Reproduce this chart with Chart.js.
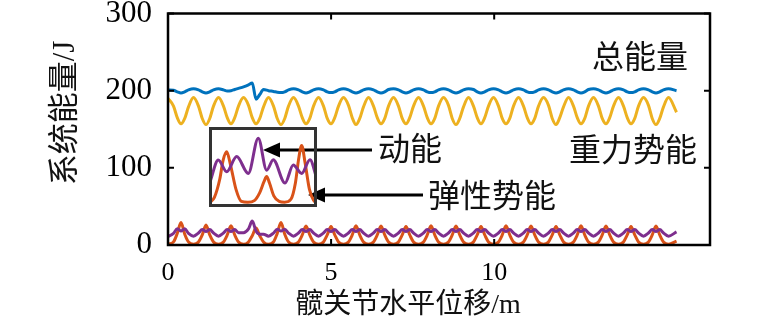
<!DOCTYPE html>
<html><head><meta charset="utf-8">
<script src="https://cdn.jsdelivr.net/npm/chart.js@4.4.0/dist/chart.umd.min.js"></script>
<style>
html,body{margin:0;padding:0;background:#fff;}
#wrap{position:relative;width:769px;height:334px;overflow:hidden;}
#main{position:absolute;left:0;top:0;}
#inset{position:absolute;left:209px;top:127px;}
</style></head><body>
<div id="wrap"><canvas id="main" width="769" height="334"></canvas><canvas id="inset" width="108" height="80"></canvas></div>
<script>
// ---- data ----
const xTicks = [0, 5, 10];
const yTicks = [0, 100, 200, 300];
const seriesNames = ['总能量', '重力势能', '动能', '弹性势能'];
const xTitle = '髋关节水平位移/m';
const yTitle = '系统能量/J';

const xs = [
 0,0.169,0.284,0.399,0.513,0.628,
 0.782,0.935,1.050,1.165,1.280,1.395,
 1.548,1.701,1.816,1.931,2.046,2.161,
 2.315,2.468,2.583,2.698,2.813,2.928,
 3.081,3.234,3.349,3.464,3.579,3.694,
 3.848,4.001,4.116,4.231,4.346,4.461,
 4.614,4.767,4.882,4.997,5.112,5.227,
 5.380,5.533,5.648,5.763,5.878,5.993,
 6.147,6.300,6.415,6.530,6.645,6.760,
 6.913,7.066,7.181,7.296,7.411,7.526,
 7.680,7.833,7.948,8.063,8.178,8.293,
 8.446,8.599,8.714,8.829,8.944,9.059,
 9.212,9.365,9.480,9.595,9.710,9.825,
 9.979,10.132,10.247,10.362,10.477,10.592,
 10.745,10.898,11.013,11.128,11.243,11.358,
 11.512,11.665,11.780,11.895,12.010,12.125,
 12.278,12.431,12.546,12.661,12.776,12.891,
 13.044,13.197,13.312,13.427,13.542,13.657,
 13.811,13.964,14.079,14.194,14.309,14.424,
 14.577,14.730,14.845,14.960,15.075,15.190,
 15.343,15.590];

const totalEnergy = [
 201,200.5,198.5,197,198.5,201,
 202.5,201,198.5,197,198.5,201,
 202.5,201,199.5,200,201.5,203,
 205,207.5,210,189,195,201.5,
 200,199,198,197.5,198.5,201,
 202.5,201,198.5,197,198.5,201,
 202.5,201,198.5,197.5,198.5,201,
 202.5,201,198.5,197,198.5,201,
 202.5,201,198.5,197,198.5,201.5,
 202.5,201,198.5,197,198.5,201,
 202.5,201,198.5,197.5,198.5,201,
 202.5,201,198.5,197,198.5,201,
 202.5,201.5,198.5,197,198.5,201,
 202.5,201,198.5,197,198.5,201,
 202.5,201,198.5,197.5,198.5,201,
 202.5,201,198.5,197,198.5,201,
 202.5,201,198.5,197,198.5,201.5,
 202.5,201,198.5,197,198.5,201,
 202.5,201,198.5,197.5,198.5,201,
 202.5,201,198.5,197,198.5,201,
 202.5,200];

const gravityPE = [
 190,180,165,157,164,179,
 191,180,164,156,164,180,
 191,180,165,157,165,180,
 191,181,165,157,164,179,
 191,180,164,156,164,180,
 191,180,165,157,164,180,
 191,180,164,157,165,180,
 191,181,165,156,164,179,
 191,180,165,157,164,180,
 191,180,164,157,165,180,
 191,180,165,157,164,180,
 191,181,164,156,164,179,
 191,180,165,157,165,180,
 191,180,164,157,164,180,
 191,180,165,157,164,180,
 191,181,164,156,165,179,
 191,180,165,157,164,180,
 191,180,164,157,165,180,
 191,180,165,157,164,180,
 191,181,164,156,164,179,
 191,172];

const kineticE = [
 10.8,15,21,18,21,15,
 11.5,15.5,20,17.5,20,15.5,
 11.5,15.5,20,17.5,20,16,
 16,21,31,18,14,14,
 11.5,15.5,20.5,18,20.5,15.5,
 11.5,15.5,20,17.5,20,15.5,
 11.5,15.5,20,17.5,20,15.5,
 11.5,15.5,20,17.5,20,15.5,
 11.5,15.5,20,17.5,20,15.5,
 11.5,15.5,20,17.5,20,15.5,
 11.5,15.5,20,17.5,20,15.5,
 11.5,15.5,20,17.5,20,15.5,
 11.5,15.5,20,17.5,20,15.5,
 11.5,15.5,20,17.5,20,15.5,
 11.5,15.5,20,17.5,20,15.5,
 11.5,15.5,20,17.5,20,15.5,
 11.5,15.5,20,17.5,20,15.5,
 11.5,15.5,20,17.5,20,15.5,
 11.5,15.5,20,17.5,20,15.5,
 11.5,15.5,20,17.5,20,15.5,
 11.5,17];

const elasticPE = [
 1,4,15,29,14,4,
 1,4,13,26,13,4,
 1,4,13,25,13,4,
 1,4,12,22,12,4,
 1,4,15,29,14,4,
 1,4,13,24.5,13,4,
 1,4,13,24,13,4,
 1,4,13,25,13,4,
 1,4,13,24.5,13,4,
 1,4,13,24,13,4,
 1,4,13,25,13,4,
 1,4,13,24.5,13,4,
 1,4,13,24,13,4,
 1,4,13,25,13,4,
 1,4,13,24.5,13,4,
 1,4,13,24,13,4,
 1,4,13,25,13,4,
 1,4,13,24.5,13,4,
 1,4,13,24,13,4,
 1,4,13,24.5,13,4,
 1,5];

// inset (magnified detail, local 0..1 x and 0..100 y)
const insetKinX = [0.01,0.086,0.164,0.256,0.364,0.456,0.534,0.595,0.704,0.78,0.858,0.935,0.997];
const insetKin  = [31.6,58.8,44,63,42,86,46,59,30,52.5,42,59,36];
const insetElaX = [0.01,0.05,0.1,0.13,0.164,0.2,0.25,0.3,0.36,0.42,0.47,0.51,0.534,0.56,0.6,0.65,0.7,0.76,0.8,0.83,0.858,0.89,0.93,0.97,0.995];
const insetEla  = [6,12,35,58,69,52,22,7,6,8,18,32,38,30,14,7,6,10,30,60,77,55,22,8,5];

// ---- styling ----
const BLUE='#0072BD', YELLOW='#EDB120', ORANGE='#D95319', PURPLE='#7E2F8E';
const SERIF = "'Liberation Serif','Times New Roman','Noto Sans CJK SC',serif";
const CJK = "'Noto Sans CJK SC','Liberation Serif',sans-serif";

const pts = (xa, ya) => xa.map((x, i) => ({x, y: ya[i]}));
const ds = (label, xa, ya, color) => ({label, data: pts(xa, ya), borderColor: color, backgroundColor: color,
  borderWidth: 3, pointRadius: 0, fill: false, cubicInterpolationMode: 'monotone'});

const framePlugin = {
  id: 'frame',
  afterDatasetsDraw(chart) {
    const {ctx, chartArea: a, scales: {x, y}} = chart;
    ctx.save();
    ctx.strokeStyle = '#000';
    ctx.lineWidth = 2.5;
    ctx.strokeRect(a.left, a.top, a.right - a.left, a.bottom - a.top);
    ctx.lineWidth = 2;
    ctx.beginPath();
    x.ticks.forEach(t => { const p = x.getPixelForValue(t.value);
      ctx.moveTo(p, a.bottom); ctx.lineTo(p, a.bottom - 6); ctx.moveTo(p, a.top); ctx.lineTo(p, a.top + 6); });
    y.ticks.forEach(t => { const p = y.getPixelForValue(t.value);
      ctx.moveTo(a.left, p); ctx.lineTo(a.left + 6, p); ctx.moveTo(a.right, p); ctx.lineTo(a.right - 6, p); });
    ctx.stroke();
    ctx.restore();
  }
};

const annotPlugin = {
  id: 'annot',
  afterDraw(chart) {
    const ctx = chart.ctx;
    ctx.save();
    ctx.fillStyle = '#111';
    ctx.textAlign = 'center';
    ctx.textBaseline = 'middle';
    // axis titles
    ctx.font = "28px " + SERIF;
    ctx.fillText(xTitle, 408, 306);
    ctx.save();
    ctx.translate(66, 113);
    ctx.rotate(-Math.PI / 2);
    ctx.font = "31px " + SERIF;
    ctx.fillText(yTitle, 0, 0);
    ctx.restore();
    // series labels
    ctx.font = "32px " + CJK;
    ctx.fillText(seriesNames[0], 640, 56);
    ctx.fillText(seriesNames[1], 633, 149);
    ctx.fillText(seriesNames[2], 410, 148);
    ctx.fillText(seriesNames[3], 492, 195);
    const arrow = (x0, x1, yy) => {
      ctx.strokeStyle = '#000'; ctx.fillStyle = '#000'; ctx.lineWidth = 3;
      ctx.beginPath(); ctx.moveTo(x0, yy); ctx.lineTo(x1 + 12, yy); ctx.stroke();
      ctx.beginPath(); ctx.moveTo(x1, yy); ctx.lineTo(x1 + 17, yy - 7.5); ctx.lineTo(x1 + 17, yy + 7.5); ctx.closePath(); ctx.fill();
    };
    arrow(372, 263, 150);
    arrow(423, 308, 195);
    ctx.restore();
  }
};

new Chart(document.getElementById('main'), {
  type: 'line',
  data: { datasets: [
    ds(seriesNames[0], xs, totalEnergy, BLUE),
    ds(seriesNames[1], xs, gravityPE, YELLOW),
    ds(seriesNames[2], xs, kineticE, PURPLE),
    ds(seriesNames[3], xs, elasticPE, ORANGE)
  ]},
  options: {
    responsive: false, animation: false, events: [],
    layout: { padding: { top: 13.5, right: 59, left: 0, bottom: 0 } },
    plugins: { legend: { display: false }, tooltip: { enabled: false } },
    scales: {
      x: {
        type: 'linear', min: 0, max: 16.616,
        afterBuildTicks: s => { s.ticks = xTicks.map(v => ({value: v})); },
        afterFit: s => { s.height = 89; s.paddingLeft = 0; s.paddingRight = 0; },
        grid: { display: false, drawTicks: false },
        border: { display: false },
        ticks: { color: '#000', padding: 13, maxRotation: 0, font: { family: SERIF, size: 26 } },
        title: { display: false, text: xTitle }
      },
      y: {
        min: 0, max: 300,
        afterBuildTicks: s => { s.ticks = yTicks.map(v => ({value: v})); },
        afterFit: s => { s.width = 168; s.paddingTop = 0; s.paddingBottom = 0; },
        grid: { display: false, drawTicks: false },
        border: { display: false },
        ticks: { color: '#000', padding: 16, font: { family: SERIF, size: 31 } },
        title: { display: false, text: yTitle }
      }
    }
  },
  plugins: [framePlugin, annotPlugin]
});

const insetFrame = {
  id: 'insetFrame',
  afterDatasetsDraw(chart) {
    const ctx = chart.ctx;
    ctx.save();
    ctx.strokeStyle = '#333'; ctx.lineWidth = 3;
    ctx.strokeRect(1.5, 1.5, chart.width - 3, chart.height - 3);
    ctx.restore();
  }
};

new Chart(document.getElementById('inset'), {
  type: 'line',
  data: { datasets: [
    ds(seriesNames[2], insetKinX, insetKin, PURPLE),
    ds(seriesNames[3], insetElaX, insetEla, ORANGE)
  ]},
  options: {
    responsive: false, animation: false, events: [],
    layout: { padding: 0 },
    plugins: { legend: { display: false }, tooltip: { enabled: false } },
    scales: { x: { type: 'linear', min: 0, max: 1, display: false },
              y: { min: 0, max: 100, display: false } }
  },
  plugins: [insetFrame]
});
</script>
</body></html>
